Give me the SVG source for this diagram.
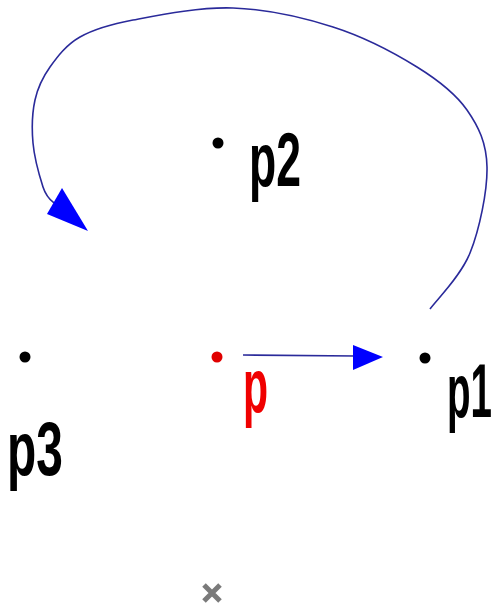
<svg xmlns="http://www.w3.org/2000/svg" width="503" height="612" viewBox="0 0 503 612">
<style>
.lbl{font-family:"Liberation Sans",Arial,sans-serif;font-weight:bold;font-size:76px;fill:#000}
.red{fill:#f00000}
.dot{fill:#000}
.edge{fill:none;stroke:#2a2a9a;stroke-width:1.6}
.head{fill:#0000ff;stroke:none}
</style>
<rect width="503" height="612" fill="#fff"/>
<g id="connectors">
<path class="edge" d="M430,309 C436.7,299.7 460.5,276.7 470,253 C479.5,229.3 487.5,190.8 487,167 C486.5,143.2 478.7,126.7 467,110 C455.3,93.3 439.3,80.8 417,67 C394.7,53.2 363.7,36.8 333,27 C302.3,17.2 266.3,9.2 233,8 C199.7,6.8 158.5,15.2 133,20 C107.5,24.8 93.8,29.2 80,37 C66.2,44.8 57.5,56.5 50,67 C42.5,77.5 37.8,87.3 35,100 C32.2,112.7 31.7,128.5 33,143 C34.3,157.5 39.8,177 43,187 C46.2,197 50.5,200.3 54,203"/>
<polygon class="head" points="62,188 47,214 88,231"/>
<line class="edge" x1="243" y1="355" x2="356" y2="356"/>
<polygon class="head" points="353,345 383,357 353,370"/>
</g>
<g id="p2">
<circle class="dot" cx="218" cy="143" r="5.5"/>
<text class="lbl" transform="translate(249,186) scale(0.586,1)">p2</text>
</g>
<g id="p">
<circle cx="217" cy="357" r="5.5" fill="#e00000"/>
<text class="lbl red" transform="translate(243,412) scale(0.54,1)">p</text>
</g>
<g id="p1">
<circle class="dot" cx="425" cy="358" r="5.5"/>
<text class="lbl" transform="translate(447,417) scale(0.507,1)">p1</text>
</g>
<g id="p3">
<circle class="dot" cx="25" cy="357" r="5.5"/>
<text class="lbl" transform="translate(7,475) scale(0.63,1)">p3</text>
</g>
<g id="marker">
<path d="M204,585 L220,601 M220,585 L204,601" stroke="#7a7a7a" stroke-width="5" fill="none"/>
</g>
</svg>
